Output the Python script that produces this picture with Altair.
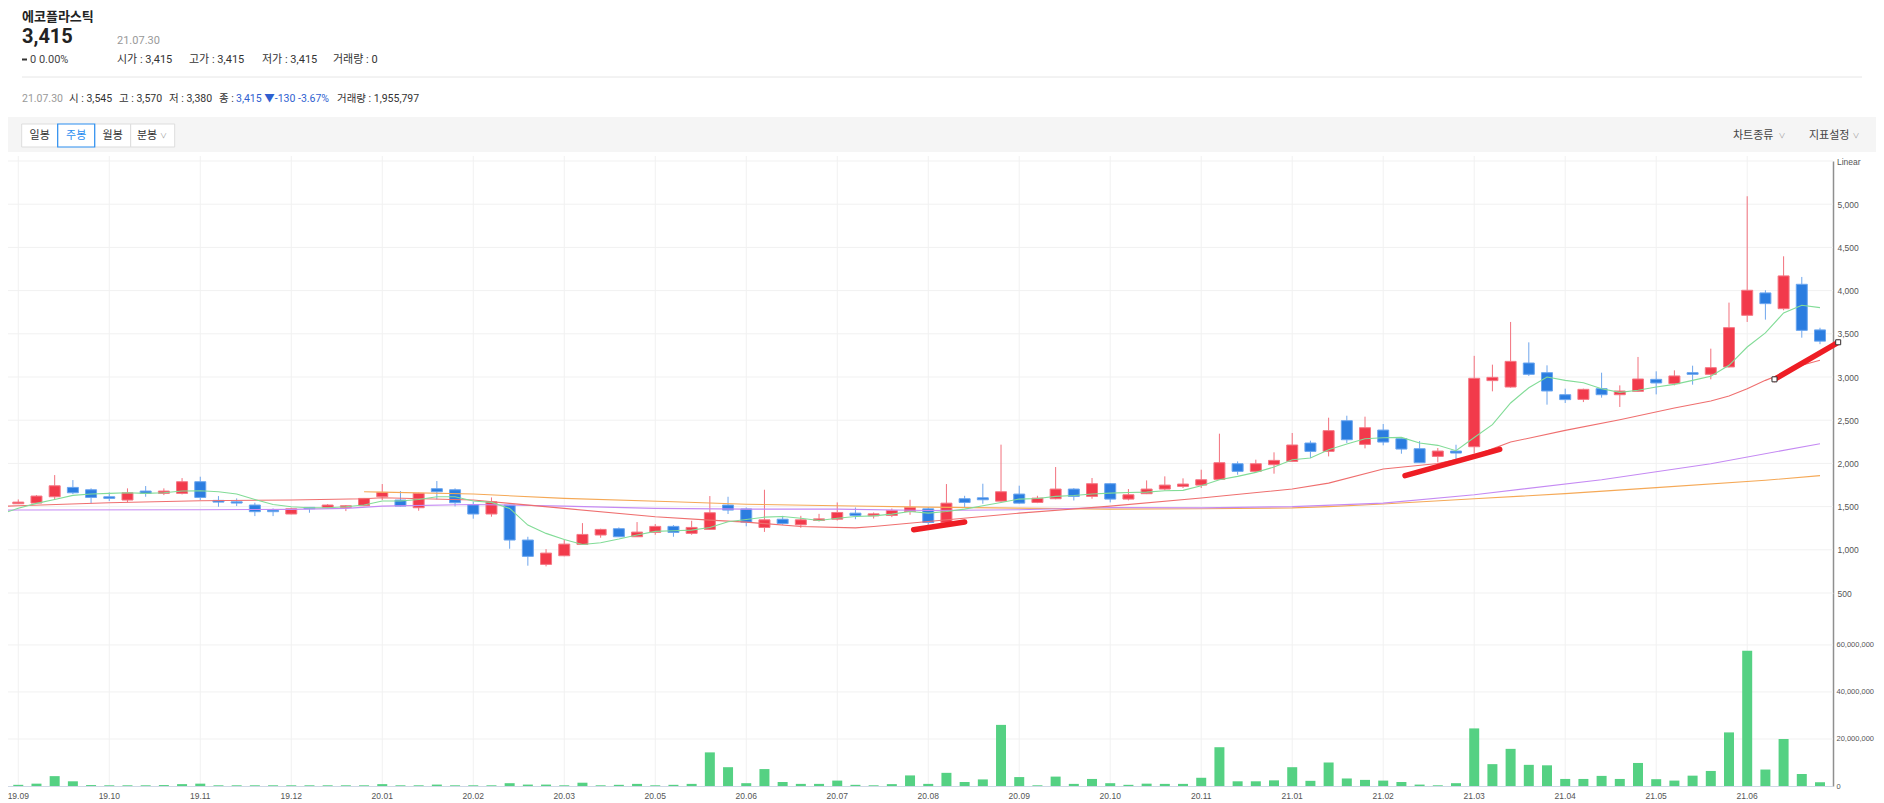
import altair as alt
import pandas as pd

# ------------------------------------------------------------------ data
OPEN = [1533, 1541, 1614, 1722, 1695, 1614, 1576, 1680, 1653, 1653,
        1788, 1572, 1556, 1518, 1460, 1414, 1491, 1491, 1491, 1510,
        1614, 1576, 1487, 1707, 1695, 1522, 1414, 1518, 1113, 831,
        931, 1062, 1171, 1244, 1151, 1201, 1271, 1190, 1236, 1518,
        1473, 1258, 1354, 1289, 1339, 1354, 1424, 1393, 1397, 1443,
        1474, 1316, 1591, 1602, 1563, 1645, 1548, 1591, 1703, 1618,
        1765, 1587, 1649, 1703, 1734, 1749, 1815, 1996, 1908, 1985,
        2023, 2236, 2139, 2494, 2220, 2386, 2286, 2170, 2081, 2143,
        2193, 2958, 2884, 3162, 3050, 2795, 2741, 2865, 2795, 2834,
        2973, 2923, 3050, 3031, 3116, 3714, 3973, 3791, 4073, 3545]
HIGH = [1583, 1633, 1865, 1807, 1711, 1664, 1711, 1738, 1711, 1830,
        1846, 1622, 1595, 1545, 1479, 1487, 1491, 1529, 1518, 1600,
        1761, 1680, 1660, 1796, 1711, 1556, 1606, 1518, 1151, 1008,
        1113, 1309, 1244, 1259, 1321, 1298, 1286, 1336, 1622, 1614,
        1490, 1695, 1393, 1393, 1416, 1548, 1490, 1432, 1478, 1579,
        1494, 1761, 1625, 1765, 2217, 1742, 1625, 1958, 1714, 1831,
        1773, 1703, 1803, 1850, 1827, 1927, 2344, 2023, 2043, 2128,
        2352, 2263, 2529, 2552, 2541, 2456, 2290, 2259, 2178, 2216,
        3245, 3143, 3637, 3401, 3135, 2865, 2865, 3050, 2903, 3232,
        3066, 3077, 3131, 3328, 3861, 5092, 4004, 4397, 4158, 3570]
LOW = [1530, 1537, 1583, 1645, 1537, 1564, 1552, 1614, 1633, 1641,
       1576, 1498, 1506, 1390, 1390, 1410, 1429, 1479, 1448, 1505,
       1576, 1500, 1452, 1583, 1502, 1360, 1383, 1012, 816, 808,
       925, 1060, 1140, 1148, 1148, 1174, 1151, 1174, 1230, 1414,
       1272, 1207, 1289, 1254, 1327, 1339, 1354, 1362, 1378, 1405,
       1289, 1310, 1486, 1533, 1560, 1533, 1540, 1585, 1571, 1591,
       1549, 1572, 1645, 1688, 1715, 1715, 1811, 1869, 1896, 1881,
       2020, 2062, 2081, 2236, 2174, 2209, 2112, 2005, 2012, 2043,
       2115, 2834, 2876, 3012, 2680, 2699, 2710, 2761, 2653, 2830,
       2799, 2903, 2911, 2973, 3110, 3637, 3664, 3772, 3455, 3380]
CLOSE = [1552, 1622, 1741, 1660, 1606, 1595, 1660, 1653, 1680, 1788,
         1606, 1552, 1541, 1441, 1441, 1475, 1475, 1518, 1510, 1595,
         1664, 1506, 1653, 1672, 1545, 1414, 1556, 1113, 924, 962,
         1066, 1178, 1236, 1151, 1205, 1271, 1201, 1259, 1429, 1460,
         1320, 1347, 1304, 1347, 1358, 1432, 1397, 1416, 1455, 1490,
         1316, 1540, 1548, 1579, 1672, 1540, 1598, 1703, 1618, 1765,
         1587, 1637, 1703, 1749, 1761, 1811, 2008, 1908, 1996, 2035,
         2213, 2139, 2379, 2274, 2413, 2247, 2166, 2008, 2143, 2120,
         2985, 2996, 3181, 3031, 2838, 2738, 2857, 2795, 2838, 2977,
         2931, 3012, 3031, 3108, 3571, 4004, 3849, 4170, 3540, 3415]
# weekly volume, millions of shares
VOLUME_M = [0.5, 1.0, 4.2, 2.0, 0.4, 0.3, 0.3, 0.3, 0.4, 0.8,
            1.0, 0.3, 0.3, 0.3, 0.3, 0.3, 0.3, 0.3, 0.3, 0.3,
            0.8, 0.3, 0.3, 0.6, 0.3, 0.3, 0.3, 1.2, 0.6, 0.6,
            0.3, 1.4, 0.3, 0.5, 0.9, 0.3, 0.5, 0.9, 14.3, 8.0,
            1.2, 7.2, 1.7, 0.9, 0.9, 2.3, 0.5, 0.3, 0.8, 4.5,
            0.9, 5.6, 1.7, 2.8, 26.0, 3.8, 0.3, 4.0, 0.9, 3.0,
            1.2, 0.5, 1.0, 0.9, 0.9, 3.5, 16.5, 2.0, 2.0, 2.4,
            8.0, 2.2, 10.0, 3.2, 2.6, 2.3, 1.7, 0.6, 0.3, 1.2,
            24.5, 9.3, 15.8, 9.0, 8.8, 3.0, 3.0, 4.3, 3.0, 9.8,
            2.9, 2.3, 4.4, 6.4, 22.8, 57.5, 7.0, 20.0, 5.1, 1.6]
# 5-week moving average (index -1 .. 99)
MA5_IDX = list(range(-1, 100))
MA5 = [1410,
       1480, 1537, 1583, 1630, 1645, 1653, 1660, 1653, 1660, 1680,
       1684, 1672, 1645, 1583, 1525, 1498, 1487, 1487, 1498, 1518,
       1564, 1564, 1583, 1614, 1614, 1564, 1549, 1479, 1286, 1190,
       1120, 1062, 1082, 1124, 1171, 1213, 1221, 1228, 1259, 1325,
       1350, 1378, 1385, 1366, 1339, 1366, 1385, 1393, 1413, 1443,
       1424, 1443, 1471, 1509, 1548, 1587, 1594, 1618, 1629, 1645,
       1656, 1664, 1668, 1684, 1688, 1742, 1811, 1850, 1896, 1958,
       2043, 2062, 2159, 2224, 2286, 2297, 2301, 2236, 2209, 2147,
       2300, 2448, 2699, 2876, 3000, 2961, 2934, 2865, 2822, 2846,
       2884, 2915, 2961, 3008, 3135, 3347, 3510, 3741, 3830, 3803]
MA20_IDX = [-1, 0, 5, 10, 15, 19, 20, 25, 27, 30, 35, 38, 40, 43, 46, 47, 50,
            55, 60, 65, 70, 72, 75, 78, 80, 82, 85, 88, 91, 93, 94, 95, 96,
            97, 98, 99]
MA20 = [1503, 1510, 1545, 1568, 1576, 1591, 1603, 1576, 1537, 1479, 1383,
        1344, 1320, 1269, 1254, 1269, 1327, 1424, 1505, 1599, 1703, 1772,
        1935, 1998, 2090, 2247, 2382, 2506, 2641, 2722, 2780, 2865, 2961,
        3046, 3135, 3193]
MA60_IDX = [-1, 0, 10, 15, 18, 20, 25, 30, 35, 40, 45, 50, 55, 60, 65, 70,
            75, 80, 87, 93, 99]
MA60 = [1458, 1460, 1463, 1468, 1480, 1505, 1525, 1506, 1479, 1471, 1471,
        1455, 1463, 1490, 1485, 1500, 1540, 1637, 1811, 1996, 2228]
MA120_IDX = [19, 20, 25, 30, 36, 40, 45, 50, 55, 60, 65, 70, 72, 75, 80, 85,
             90, 96, 99]
MA120 = [1672, 1668, 1645, 1595, 1556, 1528, 1509, 1494, 1482, 1471, 1475,
         1485, 1500, 1530, 1590, 1650, 1720, 1805, 1858]
# user-drawn trend lines (start/end in index, price)
TREND_ID = [1, 1, 2, 2, 3, 3]
TREND_IDX = [49.2, 52.0, 76.2, 81.4, 96.5, 100.0]
TREND_PRICE = [1233, 1322, 1858, 2163, 2973, 3402]
HANDLE_IDX = [96.5, 100.0]
HANDLE_PRICE = [2973, 3402]

X_LABELS = ['19.09', '19.10', '19.11', '19.12', '20.01', '20.02', '20.03',
            '20.05', '20.06', '20.07', '20.08', '20.09', '20.10', '20.11',
            '21.01', '21.02', '21.03', '21.04', '21.05', '21.06']
LABEL_STEP = 5
PRICE_TICKS = [500, 1000, 1500, 2000, 2500, 3000, 3500, 4000, 4500, 5000]
VOL_TICKS = [0, 20000000, 40000000, 60000000]

# ------------------------------------------------------------------ layout
W, H = 1868, 795
AX_X = 1825                      # right axis position
X_SCALE = alt.Scale(domain=[-0.29, 99.44], range=[0, AX_X], nice=False, zero=False)
P_SCALE = alt.Scale(domain=[500, 5500], range=[585, 153], nice=False, zero=False)
V_SCALE = alt.Scale(domain=[0, 82100000], range=[778, 585], nice=False, zero=False)

UI = "Roboto, 'Noto Sans CJK KR', sans-serif"
AXF = "'Liberation Sans', Arial, sans-serif"
RED, BLUE = '#f23a4b', '#2b7de0'

df = pd.DataFrame({
    'i': list(range(len(OPEN))), 'o': OPEN, 'h': HIGH, 'l': LOW, 'c': CLOSE,
    'v': [v * 1e6 for v in VOLUME_M],
})
df['dir'] = ['up' if c >= o else 'down' for o, c in zip(OPEN, CLOSE)]

ONE = pd.DataFrame({'k': [0]})


def X(field='i'):
    return alt.X(f'{field}:Q', scale=X_SCALE, axis=None)


def P(field, axis=None):
    return alt.Y(f'{field}:Q', scale=P_SCALE, axis=axis)


def txt(s, x, y, size=11, color='#333', weight='normal', font=UI, align='left',
        baseline='alphabetic'):
    return alt.Chart(ONE).mark_text(
        text=s, align=align, baseline=baseline, fontSize=size, font=font,
        color=color, fontWeight=weight
    ).encode(x=alt.value(x), y=alt.value(y))


def rect(x1, x2, y1, y2, fill, stroke=None, sw=0):
    kw = dict(fill=fill)
    if stroke:
        kw.update(stroke=stroke, strokeWidth=sw)
    return alt.Chart(ONE).mark_rect(**kw).encode(
        x=alt.value(x1), x2=alt.value(x2), y=alt.value(y1), y2=alt.value(y2))


def hline(x1, x2, y, color, sw=1):
    return alt.Chart(ONE).mark_rule(color=color, strokeWidth=sw).encode(
        x=alt.value(x1), x2=alt.value(x2), y=alt.value(y))


layers = []

# ---------------- header
layers += [
    txt('에코플라스틱', 14, 13, size=13, color='#222', weight='bold'),
    txt('3,415', 14, 35, size=20, color='#222', weight='bold'),
    txt('21.07.30', 109, 35.5, size=11, color='#999'),
    rect(14, 19, 50.5, 52.5, '#333'),
    txt('0  0.00%', 22, 55, size=11, color='#444'),
    txt('시가 : 3,415', 109, 55, size=11, color='#333'),
    txt('고가 : 3,415', 181, 55, size=11, color='#333'),
    txt('저가 : 3,415', 254, 55, size=11, color='#333'),
    txt('거래량 : 0', 325, 55, size=11, color='#333'),
    hline(14, 1854, 69, '#e6e6e6'),
    txt('21.07.30', 14, 94, size=10.5, color='#999'),
    txt('시 : 3,545', 61, 94, size=10.5, color='#333'),
    txt('고 : 3,570', 111, 94, size=10.5, color='#333'),
    txt('저 : 3,380', 161, 94, size=10.5, color='#333'),
    txt('종 :', 211, 94, size=10.5, color='#333'),
    txt('3,415 ▼-130 -3.67%', 228, 94, size=10.5, color='#2f5fd0'),
    txt('거래량 : 1,955,797', 329, 94, size=10.5, color='#333'),
]
# ---------------- toolbar
layers += [
    rect(0, W, 109, 144, '#f5f5f5'),
    rect(13.7, 49.7, 116, 139, 'white', '#dddddd', 1),
    rect(86.7, 122.7, 116, 139, 'white', '#dddddd', 1),
    rect(122.7, 166.7, 116, 139, 'white', '#dddddd', 1),
    rect(49.7, 86.7, 116, 139, 'white', '#2b8ef0', 1.2),
    txt('일봉', 31.7, 131, size=11, color='#333', align='center'),
    txt('주봉', 68.2, 131, size=11, color='#2b8ef0', align='center'),
    txt('월봉', 104.7, 131, size=11, color='#333', align='center'),
    txt('분봉', 139, 131, size=11, color='#333', align='center'),
    txt('∨', 155.5, 130, size=7, color='#999', align='center'),
    txt('차트종류', 1725, 131, size=11, color='#444'),
    txt('∨', 1774, 130, size=7, color='#999', align='center'),
    txt('지표설정', 1801, 131, size=11, color='#444'),
    txt('∨', 1848, 130, size=7, color='#999', align='center'),
]

# ---------------- grids
xl = pd.DataFrame({'i': list(range(0, len(X_LABELS) * LABEL_STEP, LABEL_STEP)),
                   'label': X_LABELS})
layers.append(alt.Chart(xl).mark_rule(color='#f1f1f1', strokeWidth=1).encode(
    x=X(), y=alt.value(148), y2=alt.value(778)))
pgrid = pd.DataFrame({'p': PRICE_TICKS + [5500]})
layers.append(alt.Chart(pgrid).mark_rule(color='#f1f1f1', strokeWidth=1).encode(
    y=P('p'), x=alt.value(0), x2=alt.value(AX_X)))
vgrid2 = pd.DataFrame({'v': VOL_TICKS[1:]})
layers.append(alt.Chart(vgrid2).mark_rule(color='#f1f1f1', strokeWidth=1).encode(
    y=alt.Y('v:Q', scale=V_SCALE, axis=None), x=alt.value(0), x2=alt.value(AX_X)))

# ---------------- volume
vol_axis = alt.Axis(orient='right', offset=AX_X - W, values=VOL_TICKS, format=',d',
                    domainColor='#8f8f8f', domainWidth=1.5, ticks=False, grid=False,
                    labelFontSize=7.5, labelColor='#555', labelFont=AXF,
                    labelPadding=3, title=None, labelFlush=False, labelOverlap=False)
layers.append(alt.Chart(df).mark_bar(size=10, color='#55d183').encode(
    x=X(), y=alt.Y('v:Q', scale=V_SCALE, axis=vol_axis)))
# x baseline and date labels
layers.append(hline(0, AX_X, 778.5, '#cfd8e6'))
layers.append(alt.Chart(xl).mark_text(fontSize=8.5, font=AXF, color='#555',
                                      baseline='middle', align='center').encode(
    x=X(), y=alt.value(788), text='label:N'))

# ---------------- candles
price_axis = alt.Axis(orient='right', offset=AX_X - W, values=PRICE_TICKS, format=',d',
                      domainColor='#8f8f8f', domainWidth=1.5, ticks=False, grid=False,
                      labelFontSize=8.5, labelColor='#555', labelFont=AXF,
                      labelPadding=4, title=None, labelFlush=False, labelOverlap=False)
layers.append(alt.Chart(df).mark_rule(strokeWidth=1).encode(
    x=X(), y=P('l', price_axis), y2='h:Q',
    stroke=alt.Stroke('dir:N', scale=alt.Scale(domain=['up', 'down'],
                                               range=['#f2717d', '#6fa6ec']), legend=None)))
layers.append(alt.Chart(df).mark_bar(size=11, strokeWidth=1).encode(
    x=X(), y=P('o'), y2='c:Q',
    fill=alt.Fill('dir:N', scale=alt.Scale(domain=['up', 'down'], range=[RED, BLUE]),
                  legend=None),
    stroke=alt.Stroke('dir:N', scale=alt.Scale(domain=['up', 'down'],
                                               range=['#f57784', '#6aa5ef']), legend=None)))

# ---------------- moving averages
for idx, vals, col in [(MA120_IDX, MA120, '#f5a957'), (MA60_IDX, MA60, '#c58af3'),
                       (MA20_IDX, MA20, '#ef6f6f'), (MA5_IDX, MA5, '#82dc97')]:
    d = pd.DataFrame({'i': idx, 'p': vals})
    layers.append(alt.Chart(d).mark_line(strokeWidth=1.1, color=col).encode(
        x=X(), y=P('p')))

# ---------------- trend lines
tr = pd.DataFrame({'id': TREND_ID, 'i': TREND_IDX, 'p': TREND_PRICE})
layers.append(alt.Chart(tr).mark_line(strokeWidth=5.5, color='#ee1d24',
                                      strokeCap='round').encode(
    x=X(), y=P('p'), detail='id:N'))
hd = pd.DataFrame({'i': HANDLE_IDX, 'p': HANDLE_PRICE})
layers.append(alt.Chart(hd).mark_point(shape='square', size=25, filled=True,
                                       fill='white', stroke='#333', strokeWidth=1,
                                       opacity=1).encode(x=X(), y=P('p')))

layers.append(txt('Linear', 1829, 154, size=8.5, color='#555', font=AXF,
                  baseline='middle'))

chart = alt.layer(*layers).resolve_scale(
    y='independent', fill='independent', stroke='independent'
).properties(
    width=W, height=H, padding=0,
    autosize=alt.AutoSizeParams(type='none'),
    background='white',
).configure_view(strokeWidth=0)

chart.save("out.html", embed_options={"renderer": "svg", "actions": False})
